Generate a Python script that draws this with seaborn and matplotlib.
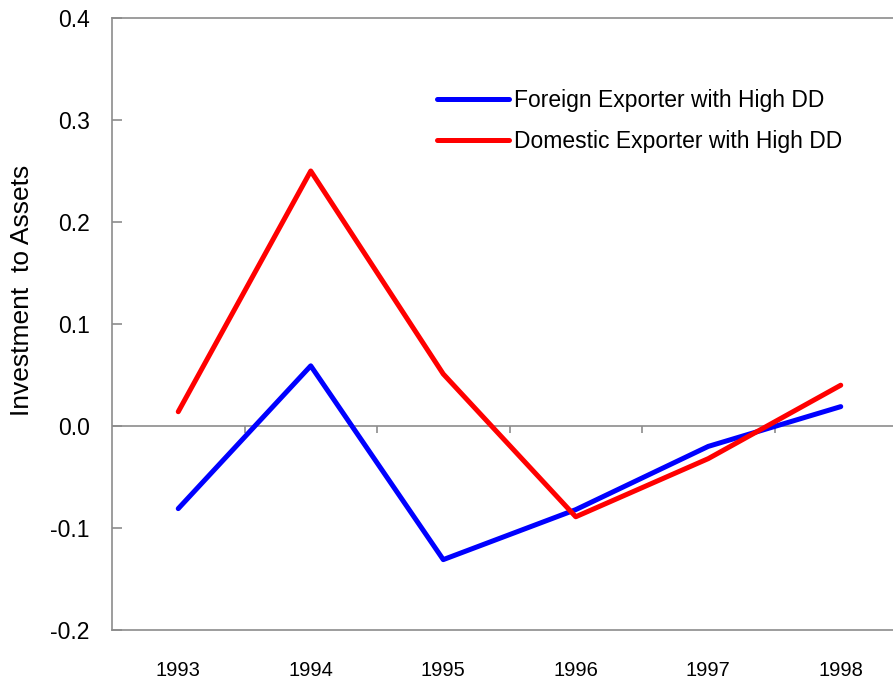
import numpy as np
import pandas as pd
import matplotlib
matplotlib.use("Agg")
import matplotlib.pyplot as plt
import seaborn as sns

years = ["1993", "1994", "1995", "1996", "1997", "1998"]
foreign = [-0.081, 0.059, -0.131, -0.082, -0.020, 0.019]
domestic = [0.014, 0.250, 0.051, -0.089, -0.032, 0.040]
series_names = ["Foreign Exporter with High DD", "Domestic Exporter with High DD"]

df = pd.DataFrame({
    "pos": list(range(len(years))) * 2,
    "value": foreign + domestic,
    "series": [series_names[0]] * len(years) + [series_names[1]] * len(years),
})

sns.set_style("white")
plt.rcParams["font.family"] = ["Liberation Sans", "DejaVu Sans"]
plt.rcParams["text.color"] = "black"
plt.rcParams["axes.labelcolor"] = "black"
plt.rcParams["xtick.color"] = "black"
plt.rcParams["ytick.color"] = "black"

fig = plt.figure(figsize=(8.93, 6.79), dpi=100)
ax = fig.add_axes([112 / 893, 49 / 679, 795 / 893, 612 / 679])

sns.lineplot(data=df, x="pos", y="value", hue="series",
             palette=["#0000ff", "#ff0000"], linewidth=3.6, ax=ax,
             solid_capstyle="round", solid_joinstyle="round")

grey = "#8c8c8c"
ax.axhline(0, color=grey, linewidth=1.2, zorder=1)
ax.vlines(np.arange(0.5, len(years) - 1), -0.007, 0, color=grey, linewidth=1.2, zorder=1)

ax.set_xlim(-0.5, len(years) - 0.5)
ax.set_ylim(-0.2, 0.4)
ax.set_yticks(np.arange(-0.2, 0.41, 0.1))
ax.set_yticklabels(["-0.2", "-0.1", "0.0", "0.1", "0.2", "0.3", "0.4"], fontsize=16.5)
ax.set_xticks(range(len(years)))
ax.set_xticklabels(years, fontsize=14.5)
ax.tick_params(axis="y", direction="in", length=7, color=grey, width=1.2, pad=16, left=True)
ax.tick_params(axis="x", length=0, pad=22)

for side in ["left", "top", "bottom"]:
    ax.spines[side].set_color(grey)
    ax.spines[side].set_linewidth(1.2)
ax.spines["right"].set_visible(False)

ax.set_xlabel("")
ax.set_ylabel("Investment  to Assets", fontsize=19)
ax.yaxis.set_label_coords(-0.098, 0.555)

ax.legend(frameon=False, fontsize=16.5, loc="center left",
          bbox_to_anchor=(437 / 893, 1 - 121 / 679), bbox_transform=fig.transFigure,
          borderpad=0, borderaxespad=0, handlelength=3.15, handletextpad=0.2,
          labelspacing=0.78)

fig.savefig("out.png", dpi=100)
